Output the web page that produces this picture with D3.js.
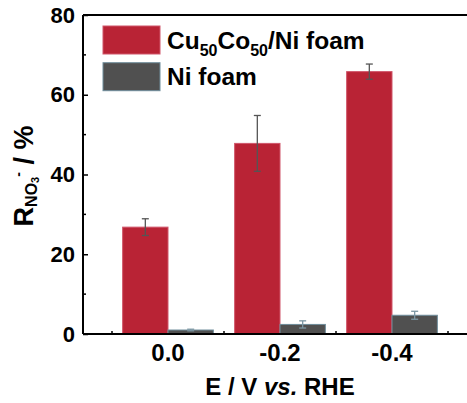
<!DOCTYPE html>
<html>
<head>
<meta charset="utf-8">
<script src="https://cdn.jsdelivr.net/npm/d3@7"></script>
<style>
  html, body { margin: 0; padding: 0; background: #fff; }
  svg { display: block; font-family: "Liberation Sans", Arial, sans-serif; font-weight: bold; }
</style>
</head>
<body>
<svg id="chart" width="467" height="403"></svg>
<script>
// Potentials (V vs. RHE) on the x axis
const potentials = ["0.0", "-0.2", "-0.4"];
// Series names
const seriesNames = ["Cu50Co50/Ni foam", "Ni foam"];
// NO3- removal ratio (%) and error for each electrode
const cuCoValues = [26.8, 47.8, 65.8];
const cuCoErrors = [2.1, 7.0, 1.9];
const niValues = [1.0, 2.4, 4.7];
const niErrors = [0.2, 0.9, 1.0];
// Y ticks
const yMajorTicks = [0, 20, 40, 60, 80];
const yMinorTicks = [10, 30, 50, 70];

const colors = { fill: ["#b92335", "#505050"], stroke: ["#d0566a", "#6f8d9b"], err: ["#555555", "#7b96a3"] };

const svg = d3.select("#chart");
const plot = { left: 83, top: 15, bottom: 334 };

// Category bands; the frame extends past the right edge of the page
const x0 = d3.scaleBand().domain(potentials).range([112, 448]).padding(0);
const bw = x0.bandwidth();
const x1 = d3.scaleBand().domain(seriesNames).range([bw * 0.095, bw * 0.905]).padding(0);
const plotRight = x0(potentials[2]) + bw / 2 + (x0(potentials[0]) + bw / 2 - plot.left);

const y = d3.scaleLinear().domain([0, 80]).range([plot.bottom, plot.top]);

const data = potentials.map((p, i) => ({
  p,
  bars: [
    { s: seriesNames[0], k: 0, v: cuCoValues[i], e: cuCoErrors[i] },
    { s: seriesNames[1], k: 1, v: niValues[i], e: niErrors[i] }
  ]
}));

// Bars
const groups = svg.append("g").selectAll("g").data(data).join("g")
  .attr("transform", d => `translate(${x0(d.p)},0)`);

groups.selectAll("rect").data(d => d.bars).join("rect")
  .attr("x", d => x1(d.s))
  .attr("width", x1.bandwidth())
  .attr("y", d => y(d.v))
  .attr("height", d => y(0) - y(d.v))
  .attr("fill", d => colors.fill[d.k])
  .attr("stroke", d => colors.stroke[d.k])
  .attr("stroke-width", 1);

// Error bars
const eb = groups.selectAll("g.err").data(d => d.bars).join("g").attr("class", "err")
  .attr("stroke", d => colors.err[d.k]).attr("stroke-width", 1.3).attr("fill", "none");
eb.append("line")
  .attr("x1", d => x1(d.s) + x1.bandwidth() / 2).attr("x2", d => x1(d.s) + x1.bandwidth() / 2)
  .attr("y1", d => y(d.v + d.e)).attr("y2", d => y(d.v - d.e));
eb.selectAll("line.cap").data(d => [d.v + d.e, d.v - d.e].map(t => ({ t, d }))).join("line").attr("class", "cap")
  .attr("x1", c => x1(c.d.s) + x1.bandwidth() / 2 - 3.5).attr("x2", c => x1(c.d.s) + x1.bandwidth() / 2 + 3.5)
  .attr("y1", c => y(c.t)).attr("y2", c => y(c.t));

// Frame: top line
svg.append("line").attr("x1", plot.left).attr("x2", plotRight).attr("y1", plot.top).attr("y2", plot.top)
  .attr("stroke", "#000").attr("stroke-width", 2);

// Y axis with inward ticks
const yAxis = svg.append("g").attr("transform", `translate(${plot.left},0)`)
  .call(d3.axisLeft(y).tickValues(yMajorTicks).tickSize(-5).tickPadding(8).tickFormat(d3.format("d")));
yAxis.select(".domain").attr("stroke-width", 2).attr("d", `M0,${plot.top}V${plot.bottom}`);
yAxis.selectAll(".tick line").attr("stroke-width", 1.5);
yAxis.selectAll("text").attr("font-size", 22).attr("font-family", "Liberation Sans, Arial, sans-serif").attr("font-weight", "bold").attr("fill", "#000");
svg.append("g").attr("transform", `translate(${plot.left},0)`)
  .selectAll("line").data(yMinorTicks).join("line")
  .attr("x1", 0).attr("x2", 3).attr("y1", d => y(d)).attr("y2", d => y(d))
  .attr("stroke", "#000").attr("stroke-width", 1.5);

// X axis
const xAxis = svg.append("g").attr("transform", `translate(0,${plot.bottom})`)
  .call(d3.axisBottom(x0).tickSize(0).tickPadding(10));
xAxis.select(".domain").attr("stroke-width", 2).attr("d", `M${plot.left},0H${plotRight}`);
xAxis.selectAll("text").attr("font-size", 24).attr("font-family", "Liberation Sans, Arial, sans-serif").attr("font-weight", "bold").attr("fill", "#000");
// Minor ticks between categories
const bounds = potentials.map(p => x0(p)).concat([x0(potentials[2]) + bw]);
svg.append("g").selectAll("line").data(bounds).join("line")
  .attr("x1", d => d).attr("x2", d => d).attr("y1", plot.bottom).attr("y2", plot.bottom - 3)
  .attr("stroke", "#000").attr("stroke-width", 1.5);

// Axis titles
const xt = svg.append("text").attr("x", 280).attr("y", 395).attr("text-anchor", "middle").attr("font-size", 24);
xt.append("tspan").text("E / V ");
xt.append("tspan").attr("font-style", "italic").text("vs.");
xt.append("tspan").text(" RHE");

const yt = svg.append("text").attr("transform", "translate(33,176) rotate(-90)").attr("text-anchor", "middle").attr("font-size", 27);
yt.append("tspan").text("R");
yt.append("tspan").attr("font-size", 16).attr("dy", 4).text("NO");
yt.append("tspan").attr("font-size", 11).attr("dy", 2).text("3");
yt.append("tspan").attr("font-size", 14).attr("dy", -16).text("-");
yt.append("tspan").attr("dy", 10).text(" / %");

// Legend
const legend = svg.append("g");
const lg = legend.selectAll("g").data(seriesNames).join("g")
  .attr("transform", (d, i) => `translate(103,${26 + i * 36.7})`);
lg.append("rect").attr("width", 57).attr("height", 28)
  .attr("fill", (d, i) => colors.fill[i]).attr("stroke", (d, i) => colors.stroke[i]).attr("stroke-width", 1);
const lt = lg.append("text").attr("x", 64).attr("y", 22.5).attr("font-size", 24.5);
lt.filter((d, i) => i === 0).each(function () {
  const t = d3.select(this);
  t.append("tspan").text("Cu");
  t.append("tspan").attr("font-size", 16).attr("dy", 7).text("50");
  t.append("tspan").attr("dy", -7).text("Co");
  t.append("tspan").attr("font-size", 16).attr("dy", 7).text("50");
  t.append("tspan").attr("dy", -7).text("/Ni foam");
});
lt.filter((d, i) => i === 1).text(d => d);
</script>
</body>
</html>
